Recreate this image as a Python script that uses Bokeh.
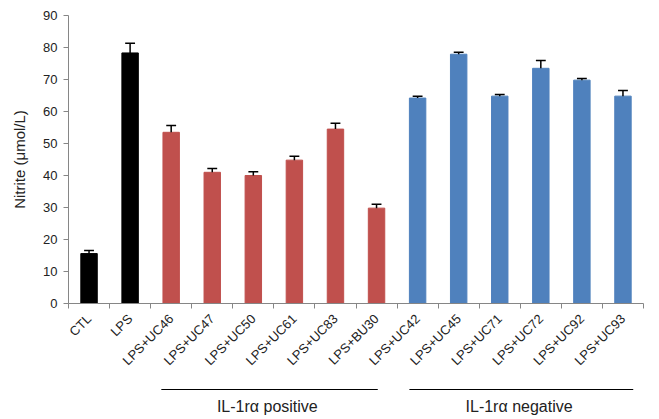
import math
from bokeh.plotting import figure
from bokeh.layouts import column
from bokeh.models import Range1d, FixedTicker, ColumnDataSource
from bokeh.embed import file_html
from bokeh.resources import INLINE

# ---- data ----
categories = ["CTL", "LPS", "LPS+UC46", "LPS+UC47", "LPS+UC50", "LPS+UC61", "LPS+UC83",
              "LPS+BU30", "LPS+UC42", "LPS+UC45", "LPS+UC71", "LPS+UC72", "LPS+UC92", "LPS+UC93"]
nitrite = [15.6, 78.3, 53.5, 41.0, 40.0, 44.8, 54.5, 29.8, 64.2, 77.9, 64.8, 73.5, 69.8, 64.8]
errors = [1.0, 3.0, 2.1, 1.2, 1.2, 1.2, 1.8, 1.2, 0.6, 0.6, 0.5, 2.4, 0.5, 1.8]
groups = ["control", "control", "pos", "pos", "pos", "pos", "pos", "pos",
          "neg", "neg", "neg", "neg", "neg", "neg"]
group_colors = {"control": "#000000", "pos": "#C0504D", "neg": "#4F81BD"}
yticks = [0, 10, 20, 30, 40, 50, 60, 70, 80, 90]
positive_members = ["LPS+UC46", "LPS+BU30"]
negative_members = ["LPS+UC42", "LPS+UC93"]
positive_label = "IL-1r\u03b1  positive"
negative_label = "IL-1r\u03b1  negative"

n = len(categories)
xc = [i + 0.5 for i in range(n)]
cap = 0.24
upper = [v + e for v, e in zip(nitrite, errors)]
src = ColumnDataSource(dict(x=xc, top=nitrite, upper=upper,
                            cap0=[x - cap / 2 for x in xc], cap1=[x + cap / 2 for x in xc],
                            color=[group_colors[g] for g in groups]))

xr = Range1d(0, n)

p = figure(frame_width=575, frame_height=288, output_backend="svg", toolbar_location=None,
           x_range=xr, y_range=Range1d(0, 90),
           min_border_left=68, min_border_right=8, min_border_top=15, min_border_bottom=60)
p.outline_line_color = None
p.xgrid.visible = False
p.ygrid.visible = False

p.vbar(x="x", top="top", width=0.4, bottom=0, color="color", source=src)
# error bars (upper only) with caps
p.segment(x0="x", y0="top", x1="x", y1="upper", source=src, line_color="black", line_width=1.5)
p.segment(x0="cap0", y0="upper", x1="cap1", y1="upper", source=src, line_color="black", line_width=1.5)

# x axis: labels at category centres, tick marks at category boundaries
xa = p.xaxis[0]
xa.ticker = FixedTicker(ticks=xc, minor_ticks=list(range(n + 1)))
xa.major_label_overrides = {x: c for x, c in zip(xc, categories)}
xa.major_label_orientation = math.pi / 4
xa.major_tick_out = 0
xa.major_tick_in = 0
xa.minor_tick_out = 5
xa.minor_tick_in = 0
xa.minor_tick_line_color = "#868686"
xa.axis_line_color = "#868686"
xa.major_label_text_font_size = "13px"
xa.major_label_text_color = "#222222"
xa.major_label_standoff = 8

# y axis
ya = p.yaxis[0]
ya.ticker = FixedTicker(ticks=yticks)
ya.minor_tick_line_color = None
ya.major_tick_out = 5
ya.major_tick_in = 0
ya.major_tick_line_color = "#868686"
ya.axis_line_color = "#868686"
ya.major_label_text_font_size = "13px"
ya.major_label_text_color = "#222222"
ya.major_label_standoff = 6
ya.axis_label = "Nitrite (\u03bcmol/L)"
ya.axis_label_text_font_size = "15px"
ya.axis_label_text_font_style = "normal"
ya.axis_label_text_color = "#222222"
ya.axis_label_standoff = 12

# strip below the chart: group brackets
p2 = figure(frame_width=575, frame_height=39, output_backend="svg", toolbar_location=None,
            x_range=xr, y_range=Range1d(-39, 0), x_axis_location=None, y_axis_location=None,
            min_border_left=68, min_border_right=8, min_border_top=0, min_border_bottom=0)
p2.outline_line_color = None
p2.xgrid.visible = False
p2.ygrid.visible = False

line_y = -13
text_y = -29.7
bx0, bx1, bx, btxt = [], [], [], []
for members, label, inset_l, inset_r in [(positive_members, positive_label, 0.26, 0.47),
                                         (negative_members, negative_label, 0.30, 0.25)]:
    x0 = categories.index(members[0]) + inset_l
    x1 = categories.index(members[1]) + 1 - inset_r
    bx0.append(x0)
    bx1.append(x1)
    bx.append((x0 + x1) / 2)
    btxt.append(label)
bsrc = ColumnDataSource(dict(x0=bx0, x1=bx1, xm=bx, label=btxt,
                             ly=[line_y] * len(bx0), ty=[text_y] * len(bx0)))
p2.segment(x0="x0", y0="ly", x1="x1", y1="ly", source=bsrc, line_color="black", line_width=1.2)
p2.text(x="xm", y="ty", text="label", source=bsrc, text_align="center", text_baseline="middle",
        text_font_size="16px", text_color="#222222")

layout = column(p, p2, spacing=0)
open("out.html", "w").write(file_html(layout, INLINE))
